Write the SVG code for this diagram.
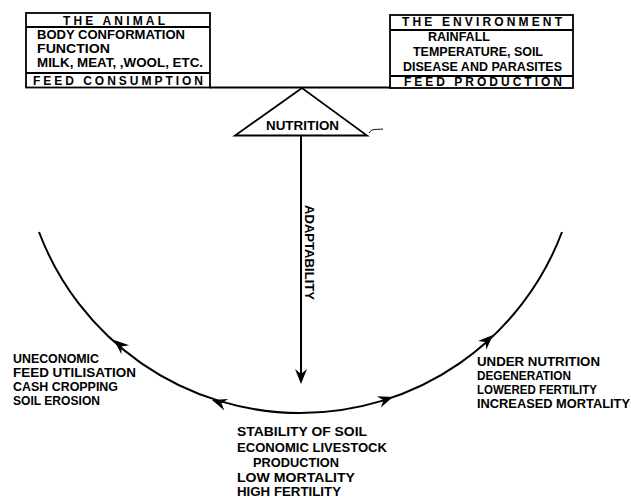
<svg xmlns="http://www.w3.org/2000/svg" width="631" height="499" viewBox="0 0 631 499">
<style>
text{font-family:"Liberation Sans",Arial,sans-serif;font-weight:bold;font-size:12px;fill:#000}
.box{fill:#fff;stroke:#000;stroke-width:1.8}
.ln{fill:none;stroke:#000;stroke-width:2}
.thin{fill:none;stroke:#000;stroke-width:1}
</style>
<defs>
<path id="ah" d="M0,0 L-15,-6 L-10,0 L-15,6 Z" fill="#000"/>
</defs>
<rect width="631" height="499" fill="#fff"/>
<g id="connectors">
<line class="ln" x1="210" y1="87.5" x2="390" y2="87.5"/>
<line class="ln" x1="301" y1="136" x2="301" y2="376"/>
<use href="#ah" transform="translate(301,384) rotate(90)"/>
<path class="ln" d="M39,232 A279.4,279.4 0 0 0 562,232"/>
<use href="#ah" transform="translate(114,340) rotate(-139)"/>
<use href="#ah" transform="translate(212,400) rotate(-161.5)"/>
<use href="#ah" transform="translate(393,397) rotate(-19.3)"/>
<use href="#ah" transform="translate(493,335) rotate(-43.5)"/>
</g>
<g id="animal">
<rect class="box" x="26" y="13" width="184" height="74.5"/>
<line class="box" x1="26" y1="27" x2="210" y2="27"/>
<line class="box" x1="26" y1="73" x2="210" y2="73"/>
<text x="63" y="24.5" textLength="102">THE ANIMAL</text>
<text x="37" y="38.5" textLength="148" lengthAdjust="spacingAndGlyphs">BODY CONFORMATION</text>
<text x="37" y="52.5" textLength="73" lengthAdjust="spacingAndGlyphs">FUNCTION</text>
<text x="37" y="66.5" textLength="166" lengthAdjust="spacingAndGlyphs">MILK, MEAT, ,WOOL, ETC.</text>
<text x="33" y="84.5" textLength="170">FEED CONSUMPTION</text>
</g>
<g id="environment">
<rect class="box" x="390" y="15" width="183" height="73"/>
<line class="box" x1="390" y1="30" x2="573" y2="30"/>
<line class="box" x1="390" y1="76" x2="573" y2="76"/>
<text x="402" y="26" textLength="160">THE ENVIRONMENT</text>
<text x="428" y="40.5" textLength="62" lengthAdjust="spacingAndGlyphs">RAINFALL</text>
<text x="413" y="55.5" textLength="130" lengthAdjust="spacingAndGlyphs">TEMPERATURE, SOIL</text>
<text x="403" y="70.5" textLength="159" lengthAdjust="spacingAndGlyphs">DISEASE AND PARASITES</text>
<text x="404" y="86" textLength="158">FEED PRODUCTION</text>
</g>
<g id="nutrition">
<polygon points="302,88 235,135.5 367,135.5" fill="#fff" stroke="#000" stroke-width="1.8"/>
<text x="266" y="129.5" textLength="73" lengthAdjust="spacingAndGlyphs">NUTRITION</text>
<path class="thin" d="M369,133 C372,128 376,130 383,129"/>
</g>
<g id="adaptability">
<text transform="translate(304.5,252.5) rotate(90)" text-anchor="middle" textLength="95" lengthAdjust="spacingAndGlyphs">ADAPTABILITY</text>
</g>
<g id="left-outcome">
<text x="13" y="362.5" textLength="86" lengthAdjust="spacingAndGlyphs">UNECONOMIC</text>
<text x="13" y="376.5" textLength="123" lengthAdjust="spacingAndGlyphs">FEED UTILISATION</text>
<text x="13" y="390.5" textLength="105" lengthAdjust="spacingAndGlyphs">CASH CROPPING</text>
<text x="13" y="405" textLength="87" lengthAdjust="spacingAndGlyphs">SOIL EROSION</text>
</g>
<g id="right-outcome">
<text x="477" y="366" textLength="123" lengthAdjust="spacingAndGlyphs">UNDER NUTRITION</text>
<text x="477" y="380" textLength="94" lengthAdjust="spacingAndGlyphs">DEGENERATION</text>
<text x="477" y="394" textLength="120" lengthAdjust="spacingAndGlyphs">LOWERED FERTILITY</text>
<text x="477" y="408" textLength="153" lengthAdjust="spacingAndGlyphs">INCREASED MORTALITY</text>
</g>
<g id="bottom-outcome">
<text x="237" y="436" textLength="130" lengthAdjust="spacingAndGlyphs">STABILITY OF SOIL</text>
<text x="237" y="451.5" textLength="150" lengthAdjust="spacingAndGlyphs">ECONOMIC LIVESTOCK</text>
<text x="253" y="467" textLength="86" lengthAdjust="spacingAndGlyphs">PRODUCTION</text>
<text x="237" y="482" textLength="118" lengthAdjust="spacingAndGlyphs">LOW MORTALITY</text>
<text x="237" y="496" textLength="104" lengthAdjust="spacingAndGlyphs">HIGH FERTILITY</text>
</g>
</svg>
